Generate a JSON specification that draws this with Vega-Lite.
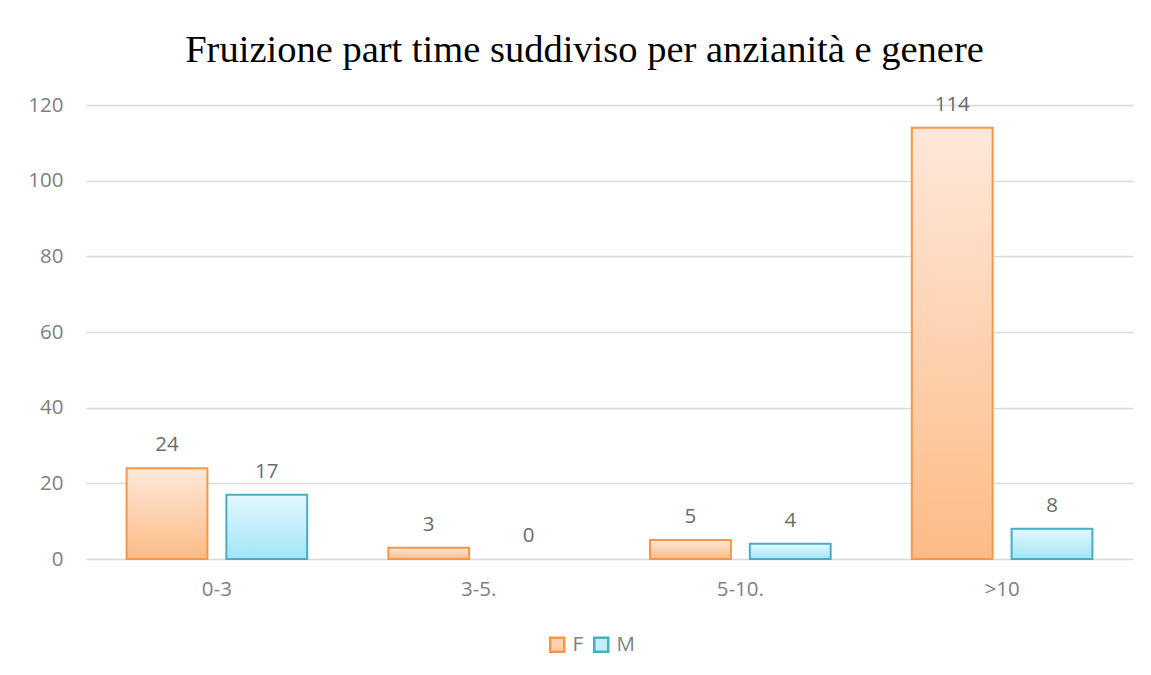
{
  "$schema": "https://vega.github.io/schema/vega-lite/v6.json",
  "autosize": "none",
  "width": 1047,
  "height": 454,
  "padding": {"left": 86, "top": 105, "right": 18, "bottom": 116},
  "background": "white",
  "config": {"view": {"stroke": null}},
  "title": {
    "text": "Fruizione part time suddiviso per anzianità e genere",
    "font": "Liberation Serif",
    "fontSize": 38.5,
    "fontWeight": "normal",
    "color": "#000000",
    "anchor": "middle",
    "frame": "group",
    "dx": -25,
    "offset": 24
  },
  "data": {
    "values": [
      {"anzianita": "0-3", "genere": "F", "valore": 24},
      {"anzianita": "0-3", "genere": "M", "valore": 17},
      {"anzianita": "3-5.", "genere": "F", "valore": 3},
      {"anzianita": "3-5.", "genere": "M", "valore": 0},
      {"anzianita": "5-10.", "genere": "F", "valore": 5},
      {"anzianita": "5-10.", "genere": "M", "valore": 4},
      {"anzianita": ">10", "genere": "F", "valore": 114},
      {"anzianita": ">10", "genere": "M", "valore": 8}
    ]
  },
  "encoding": {
    "x": {
      "field": "anzianita",
      "type": "nominal",
      "sort": ["0-3", "3-5.", "5-10.", ">10"],
      "scale": {"paddingInner": 0.31, "paddingOuter": 0.155},
      "axis": {
        "title": null,
        "labelAngle": 0,
        "domain": false,
        "ticks": false,
        "labelPadding": 20,
        "labelFont": "Open Sans",
        "labelFontSize": 20.5,
        "labelColor": "#7f7f7f"
      }
    },
    "xOffset": {
      "field": "genere",
      "type": "nominal",
      "sort": ["F", "M"],
      "scale": {"domain": ["F", "M"], "paddingInner": 0.19, "paddingOuter": 0}
    },
    "y": {
      "field": "valore",
      "type": "quantitative",
      "scale": {"domain": [0, 120], "nice": false},
      "axis": {
        "title": null,
        "values": [0, 20, 40, 60, 80, 100, 120],
        "domain": false,
        "ticks": false,
        "labelPadding": 23,
        "labelFont": "Open Sans",
        "labelFontSize": 20.5,
        "labelColor": "#7f7f7f",
        "gridColor": "#d9d9d9",
        "gridWidth": 1.5
      }
    }
  },
  "layer": [
    {
      "transform": [{"filter": "datum.genere === 'F' && datum.valore > 0"}],
      "mark": {
        "type": "bar",
        "strokeWidth": 2,
        "stroke": "#f79646",
        "fill": {"gradient": "linear", "x1": 0, "y1": 0, "x2": 0, "y2": 1, "stops": [{"offset": 0, "color": "#fee8da"}, {"offset": 1, "color": "#fdbb86"}]}
      }
    },
    {
      "transform": [{"filter": "datum.genere === 'M' && datum.valore > 0"}],
      "mark": {
        "type": "bar",
        "strokeWidth": 2,
        "stroke": "#4bacc6",
        "fill": {"gradient": "linear", "x1": 0, "y1": 0, "x2": 0, "y2": 1, "stops": [{"offset": 0, "color": "#e4f8fe"}, {"offset": 1, "color": "#a2e5f7"}]}
      }
    },
    {
      "mark": {"type": "bar", "opacity": 0, "strokeWidth": 2},
      "encoding": {
        "fill": {
          "field": "genere",
          "type": "nominal",
          "scale": {"domain": ["F", "M"], "range": ["#fdd2b2", "#c4eefa"]},
          "legend": {
            "title": null,
            "orient": "none",
            "direction": "horizontal",
            "legendX": 461,
            "legendY": 529,
            "symbolType": "square",
            "symbolSize": 196,
            "symbolStrokeWidth": 2.5,
            "symbolOpacity": 1,
            "labelFont": "Open Sans",
            "labelFontSize": 20.5,
            "labelColor": "#7f7f7f",
            "labelOffset": 5,
            "columnPadding": 5
          }
        },
        "stroke": {
          "field": "genere",
          "type": "nominal",
          "scale": {"domain": ["F", "M"], "range": ["#f79646", "#4bacc6"]},
          "legend": null
        }
      }
    },
    {
      "mark": {
        "type": "text",
        "baseline": "alphabetic",
        "dy": -17,
        "font": "Open Sans",
        "fontSize": 20.5,
        "color": "#6b6b6b"
      },
      "encoding": {
        "text": {"field": "valore", "type": "quantitative"}
      }
    }
  ]
}
